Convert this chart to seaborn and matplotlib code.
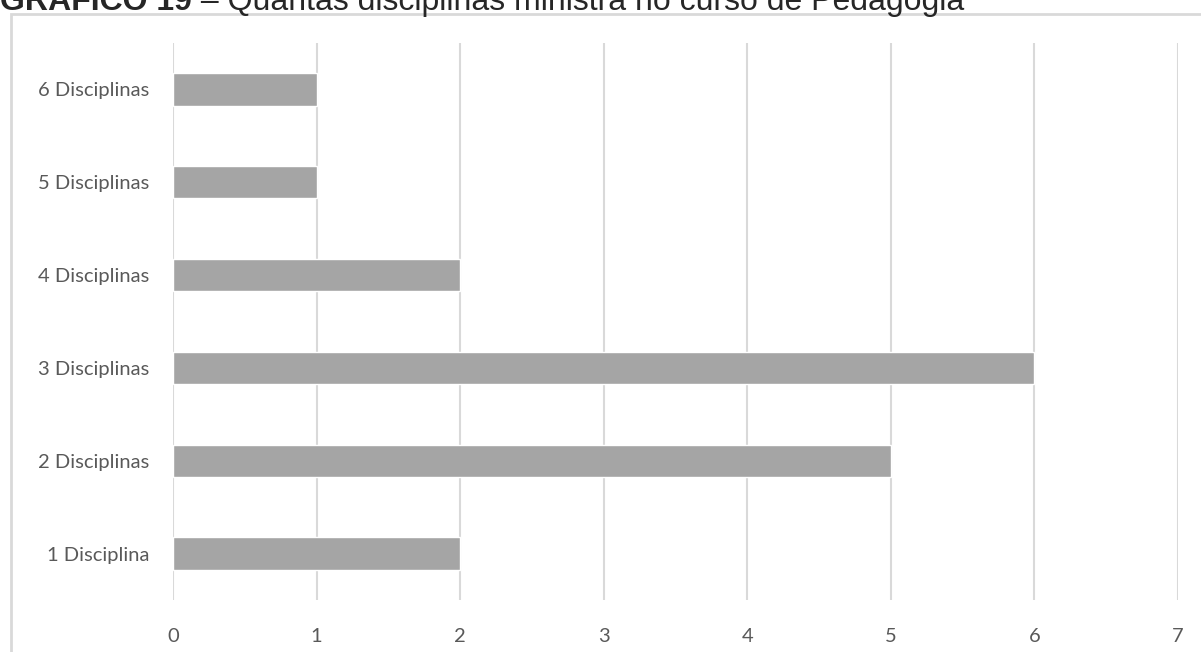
import pandas as pd
import matplotlib.pyplot as plt
import seaborn as sns
from matplotlib.patches import Rectangle

categorias = ['6 Disciplinas', '5 Disciplinas', '4 Disciplinas',
              '3 Disciplinas', '2 Disciplinas', '1 Disciplina']
quantidade = [1, 1, 2, 6, 5, 2]
x_ticks = [0, 1, 2, 3, 4, 5, 6, 7]

df = pd.DataFrame({'categoria': categorias, 'quantidade': quantidade})

sns.set_style('white')
plt.rcParams['font.family'] = ['Lato', 'DejaVu Sans']

fig = plt.figure(figsize=(12.01, 6.52), dpi=100)
ax = fig.add_axes([173/1201, 52/652, 1005/1201, 557/652])

sns.barplot(data=df, x='quantidade', y='categoria', order=categorias,
            color='#A5A5A5', saturation=1, width=0.35, ax=ax)

ax.set_xlim(0, 7)
ax.set_xticks(x_ticks)
ax.set_xlabel('')
ax.set_ylabel('')
ax.grid(axis='x', color='#D9D9D9', linewidth=1.5)
ax.set_axisbelow(True)
for s in ax.spines.values():
    s.set_visible(False)
ax.tick_params(axis='both', length=0, labelsize=14.5, labelcolor='#595959')
ax.tick_params(axis='x', pad=20)
ax.tick_params(axis='y', pad=17)

# chart area border (cut by the image edge)
fig.patches.append(Rectangle((11/1201, -0.1), 1.2, (652 - 14)/652 + 0.1,
                             transform=fig.transFigure, fill=False,
                             edgecolor='#D9D9D9', linewidth=2))

# title, cut off at the top
y_title = 1 - 10/652
t1 = fig.text(0.0, y_title, 'GRÁFICO 19', fontsize=23, fontweight='bold',
              family='Liberation Sans', va='baseline', ha='left')
fig.canvas.draw()
bb = t1.get_window_extent()
fig.text(bb.x1 / fig.bbox.width, y_title,
         ' – Quantas disciplinas ministra no curso de Pedagogia',
         fontsize=23, family='Liberation Sans', va='baseline', ha='left')

fig.savefig('out.png', dpi=100)
